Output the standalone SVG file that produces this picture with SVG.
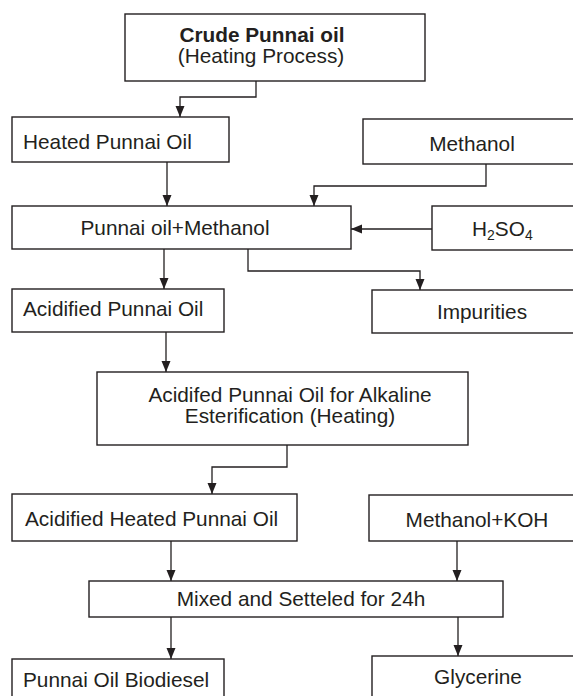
<svg xmlns="http://www.w3.org/2000/svg" width="573" height="696" viewBox="0 0 573 696">
<style>
.box{fill:#fff;stroke:#231f20;stroke-width:1.4}
.t{font-family:"Liberation Sans",Arial,sans-serif;font-size:20.8px;fill:#231f20}
.c{text-anchor:middle}
.b{font-weight:bold}
.ln{fill:none;stroke:#231f20;stroke-width:1.3}
</style>
<defs>
<marker id="ah" markerUnits="userSpaceOnUse" markerWidth="12" markerHeight="10" refX="11" refY="5" orient="auto">
<path d="M0,0.5 L11,5 L0,9.5 z" fill="#231f20"/>
</marker>
</defs>
<rect width="573" height="696" fill="#fff"/>
<g id="crude">
<rect class="box" x="125" y="14" width="300" height="67"/>
<text class="t c b" x="262" y="42">Crude Punnai oil</text>
<text class="t c" x="261" y="63">(Heating Process)</text>
</g>
<g id="heated">
<rect class="box" x="12" y="117" width="217" height="45"/>
<text class="t" x="23" y="149">Heated Punnai Oil</text>
</g>
<g id="methanol">
<rect class="box" x="363" y="119" width="220" height="45"/>
<text class="t c" x="472" y="151">Methanol</text>
</g>
<g id="punnai-methanol">
<rect class="box" x="12" y="206" width="339" height="43"/>
<text class="t c" x="175" y="235">Punnai oil+Methanol</text>
</g>
<g id="h2so4">
<rect class="box" x="432" y="206" width="150" height="44"/>
<text class="t" x="472" y="236">H<tspan font-size="14" dy="4">2</tspan><tspan dy="-4">SO</tspan><tspan font-size="14" dy="4">4</tspan></text>
</g>
<g id="acidified">
<rect class="box" x="12" y="289" width="212" height="43"/>
<text class="t" x="23" y="316">Acidified Punnai Oil</text>
</g>
<g id="impurities">
<rect class="box" x="372" y="290" width="210" height="43"/>
<text class="t c" x="482" y="319">Impurities</text>
</g>
<g id="acidifed-alkaline">
<rect class="box" x="97" y="372" width="371" height="73"/>
<text class="t c" x="290" y="402">Acidifed Punnai Oil for Alkaline</text>
<text class="t c" x="290" y="423">Esterification (Heating)</text>
</g>
<g id="acidified-heated">
<rect class="box" x="12" y="494" width="285" height="47"/>
<text class="t" x="25" y="526">Acidified Heated Punnai Oil</text>
</g>
<g id="methanol-koh">
<rect class="box" x="369" y="495" width="214" height="46"/>
<text class="t c" x="477" y="527">Methanol+KOH</text>
</g>
<g id="mixed">
<rect class="box" x="89" y="581" width="414" height="36"/>
<text class="t c" x="301" y="606">Mixed and Setteled for 24h</text>
</g>
<g id="biodiesel">
<rect class="box" x="12" y="659" width="212" height="50"/>
<text class="t" x="23" y="687">Punnai Oil Biodiesel</text>
</g>
<g id="glycerine">
<rect class="box" x="372" y="656" width="211" height="50"/>
<text class="t c" x="478" y="684">Glycerine</text>
</g>
<g id="connectors">
<path class="ln" d="M256,81 V97 H180 V117" marker-end="url(#ah)"/>
<path class="ln" d="M167,162 V206" marker-end="url(#ah)"/>
<path class="ln" d="M486,164 V186 H314 V206" marker-end="url(#ah)"/>
<path class="ln" d="M432,229 H351" marker-end="url(#ah)"/>
<path class="ln" d="M164,249 V289" marker-end="url(#ah)"/>
<path class="ln" d="M248,249 V271 H420 V290" marker-end="url(#ah)"/>
<path class="ln" d="M166,332 V372" marker-end="url(#ah)"/>
<path class="ln" d="M287,445 V467 H212 V494" marker-end="url(#ah)"/>
<path class="ln" d="M171,541 V581" marker-end="url(#ah)"/>
<path class="ln" d="M457,541 V581" marker-end="url(#ah)"/>
<path class="ln" d="M171,617 V659" marker-end="url(#ah)"/>
<path class="ln" d="M458,617 V656" marker-end="url(#ah)"/>
</g>
</svg>
